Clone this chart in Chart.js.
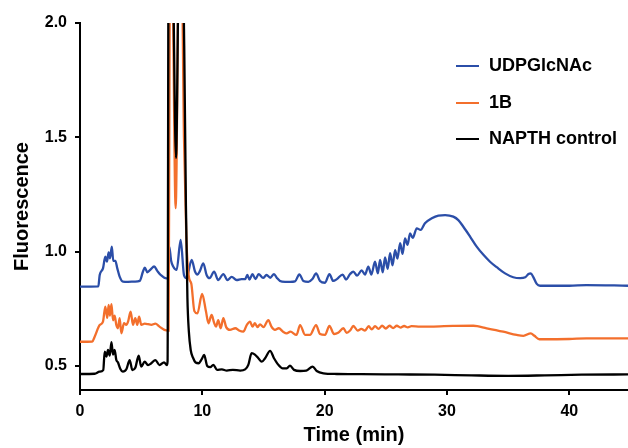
<!DOCTYPE html>
<html>

<head>
	<title>HPLC fluorescence</title>
	<style>
		body {
			margin: 0;
			background: #fff;
		}
	</style>
</head>

<body>
	<canvas id="trace" width="628" height="448"></canvas>

	<script src="https://cdn.jsdelivr.net/npm/chart.js"></script>
	<script>
		// tick labels
		const xTickValues = [0, 10, 20, 30, 40];
		const yTickValues = [0.5, 1.0, 1.5, 2.0];

		const seriesNames = ['UDPGlcNAc', '1B', 'NAPTH control'];

		// UDPGlcNAc (blue)
		const blueTime = [
			0, 1.5, 1.61, 1.88, 2.07, 2.2, 2.34, 2.45, 2.6, 2.72,
			2.89, 3.05, 3.24, 3.51, 3.92, 4.47, 4.88, 5.15, 5.3, 5.5,
			5.78, 6.06, 6.33, 6.6, 7.06, 7.2, 7.3, 7.45, 7.63, 7.9,
			8.23, 8.5, 8.7, 9.13, 9.4, 9.6, 9.8, 10.08, 10.35, 10.6,
			10.96, 11.3, 11.72, 12.05, 12.4, 12.8, 13.2, 13.5, 13.68, 13.85,
			14.1, 14.35, 14.6, 14.97, 15.25, 15.55, 15.86, 16.1, 16.35, 16.76,
			17.17, 17.58, 17.93, 18.26, 18.67, 19.0, 19.3, 19.62, 20.03, 20.39,
			20.7, 21.0, 21.47, 21.75, 22.08, 22.35, 22.65, 23.03, 23.3, 23.57,
			23.82, 24.12, 24.35, 24.53, 24.75, 24.94, 25.15, 25.35, 25.55, 25.76,
			25.95, 26.17, 26.37, 26.57, 26.78, 26.98, 27.2, 27.53, 27.85, 28.2,
			28.76, 29.3, 29.85, 30.52, 30.93, 31.34, 31.89, 32.43, 32.98, 33.52,
			34.07, 34.75, 35.42, 35.98, 36.4, 36.66, 36.85, 37.05, 37.34, 37.61,
			40, 41.4, 44.8
		];
		const blueValues = [
			0.847, 0.848, 0.898, 0.927, 0.978, 0.956, 0.997, 0.971, 1.022, 0.960,
			0.960, 0.927, 0.891, 0.869, 0.868, 0.869, 0.872, 0.913, 0.930, 0.910,
			0.923, 0.935, 0.915, 0.898, 0.883, 0.885, 1.022, 0.960, 0.934, 0.920,
			1.051, 0.898, 0.884, 0.964, 0.913, 0.900, 0.915, 0.949, 0.898, 0.884,
			0.913, 0.876, 0.902, 0.876, 0.890, 0.876, 0.880, 0.880, 0.898, 0.878,
			0.902, 0.880, 0.902, 0.885, 0.898, 0.886, 0.902, 0.885, 0.872, 0.868,
			0.868, 0.870, 0.901, 0.872, 0.868, 0.880, 0.905, 0.872, 0.864, 0.902,
			0.872, 0.880, 0.900, 0.878, 0.902, 0.913, 0.895, 0.918, 0.900, 0.934,
			0.900, 0.956, 0.905, 0.964, 0.910, 0.975, 0.925, 0.993, 0.940, 1.007,
			0.970, 1.037, 0.990, 1.058, 1.030, 1.080, 1.060, 1.102, 1.095, 1.124,
			1.146, 1.158, 1.160, 1.153, 1.138, 1.109, 1.066, 1.022, 0.986, 0.956,
			0.932, 0.905, 0.888, 0.884, 0.888, 0.902, 0.905, 0.890, 0.859, 0.851,
			0.851, 0.854, 0.851
		];

		// 1B (orange)
		const orangeTime = [
			0, 1.0, 1.2, 1.61, 1.88, 2.07, 2.23, 2.34, 2.45, 2.57,
			2.7, 2.83, 2.97, 3.1, 3.24, 3.38, 3.6, 3.78, 3.93, 4.14,
			4.33, 4.52, 4.68, 4.83, 5.01, 5.29, 5.56, 5.83, 6.16, 6.5,
			6.9, 7.24, 7.3, 7.36, 7.52, 7.82, 8.1, 8.3, 8.5, 8.7,
			8.9, 9.1, 9.35, 9.6, 9.98, 10.3, 10.5, 10.76, 10.96, 11.12,
			11.3, 11.5, 11.72, 11.95, 12.26, 12.7, 13.0, 13.35, 13.63, 13.9,
			14.1, 14.3, 14.5, 14.72, 15.0, 15.4, 15.65, 15.94, 16.25, 16.6,
			16.9, 17.2, 17.7, 17.99, 18.4, 18.8, 19.3, 19.62, 20.03, 20.39,
			20.77, 21.1, 21.53, 21.8, 22.08, 22.35, 22.7, 23.0, 23.3, 23.6,
			23.85, 24.12, 24.4, 24.7, 25.0, 25.3, 25.6, 25.9, 26.2, 26.5,
			26.8, 27.1, 27.8, 30.5, 32.16, 33.25, 34.6, 35.7, 36.25, 36.85,
			37.15, 37.55, 40, 41.4, 44.8
		];
		const orangeValues = [
			0.606, 0.607, 0.628, 0.679, 0.694, 0.760, 0.710, 0.767, 0.720, 0.770,
			0.700, 0.720, 0.679, 0.665, 0.709, 0.643, 0.687, 0.680, 0.694, 0.738,
			0.680, 0.709, 0.680, 0.716, 0.680, 0.685, 0.683, 0.680, 0.685, 0.672,
			0.658, 0.655, 1.50, 2.30, 2.30, 1.19, 2.30, 2.30, 1.50, 1.05,
			0.890, 0.860, 0.740, 0.730, 0.815, 0.738, 0.687, 0.723, 0.690, 0.672,
			0.700, 0.665, 0.709, 0.670, 0.658, 0.665, 0.655, 0.650, 0.679, 0.694,
			0.672, 0.687, 0.670, 0.682, 0.670, 0.701, 0.672, 0.658, 0.665, 0.650,
			0.643, 0.650, 0.636, 0.679, 0.636, 0.636, 0.679, 0.640, 0.636, 0.675,
			0.640, 0.645, 0.665, 0.645, 0.655, 0.675, 0.655, 0.662, 0.655, 0.674,
			0.660, 0.674, 0.662, 0.676, 0.664, 0.676, 0.666, 0.676, 0.668, 0.675,
			0.669, 0.674, 0.672, 0.675, 0.676, 0.665, 0.650, 0.636, 0.632, 0.643,
			0.632, 0.617, 0.618, 0.621, 0.621
		];

		// NAPTH control (black)
		const blackTime = [
			0, 1.2, 1.6, 1.9, 2.02, 2.16, 2.29, 2.43, 2.57, 2.7,
			2.83, 2.97, 3.1, 3.3, 3.5, 3.8, 4.06, 4.28, 4.52, 4.8,
			5.0, 5.29, 5.56, 5.83, 6.16, 6.5, 6.87, 7.1, 7.16, 7.24,
			7.55, 7.85, 8.1, 8.38, 8.52, 8.66, 8.78, 8.9, 9.05, 9.25,
			9.45, 9.7, 9.95, 10.15, 10.4, 10.65, 10.9, 11.2, 11.6, 12.0,
			12.5, 13.1, 13.5, 13.76, 14.03, 14.3, 14.58, 14.86, 15.13, 15.54,
			15.86, 16.22, 16.57, 16.9, 17.17, 17.5, 18.0, 18.5, 19.02, 19.35,
			19.9, 21, 23, 26, 29, 32, 35, 38, 41, 44.8
		];
		const blackValues = [
			0.465, 0.466, 0.475, 0.482, 0.563, 0.541, 0.570, 0.545, 0.604, 0.550,
			0.570, 0.526, 0.516, 0.487, 0.475, 0.487, 0.526, 0.482, 0.492, 0.545,
			0.497, 0.519, 0.504, 0.512, 0.526, 0.504, 0.516, 0.504, 0.520, 2.30,
			2.30, 1.41, 2.30, 2.30, 1.90, 1.20, 0.80, 0.65, 0.57, 0.535,
			0.515, 0.512, 0.530, 0.548, 0.500, 0.495, 0.505, 0.483, 0.485, 0.480,
			0.483, 0.480, 0.485, 0.505, 0.556, 0.550, 0.534, 0.519, 0.534, 0.566,
			0.534, 0.505, 0.490, 0.490, 0.502, 0.483, 0.478, 0.480, 0.497, 0.478,
			0.468, 0.465, 0.464, 0.463, 0.462, 0.459, 0.457, 0.459, 0.462, 0.463
		];

		function toPoints(times, values) {
			return times.map((t, i) => ({ x: t, y: values[i] }));
		}

		const fontFamily = '"Liberation Sans", Arial, sans-serif';

		// legend in the upper right, drawn by hand
		const sideLegend = {
			id: 'sideLegend',
			afterDraw(chart) {
				const c = chart.ctx;
				const rows = [66, 103, 139];
				c.save();
				c.font = 'bold 18px ' + fontFamily;
				c.textBaseline = 'middle';
				c.textAlign = 'left';
				chart.data.datasets.forEach((ds, i) => {
					c.strokeStyle = ds.borderColor;
					c.lineWidth = 2;
					c.beginPath();
					c.moveTo(456, rows[i]);
					c.lineTo(479, rows[i]);
					c.stroke();
					c.fillStyle = '#000';
					c.fillText(ds.label, 489, rows[i]);
				});
				c.restore();
			}
		};

		let ctx = document.getElementById('trace').getContext('2d');
		let chart = new Chart(ctx, {
			type: 'line',
			data: {
				datasets: [
					{
						label: seriesNames[0],
						borderColor: '#2b4ea8',
						order: 2,
						data: toPoints(blueTime, blueValues)
					},
					{
						label: seriesNames[1],
						borderColor: '#f36f2c',
						order: 1,
						data: toPoints(orangeTime, orangeValues)
					},
					{
						label: seriesNames[2],
						borderColor: '#000000',
						order: 0,
						data: toPoints(blackTime, blackValues)
					}
				]
			},
			options: {
				responsive: false,
				animation: false,
				devicePixelRatio: 1,
				layout: { padding: { top: 23, right: 0, bottom: 0, left: 0 } },
				elements: {
					point: { radius: 0 },
					line: { borderWidth: 2.3, cubicInterpolationMode: 'monotone', fill: false }
				},
				plugins: {
					legend: { display: false },
					tooltip: { enabled: false }
				},
				scales: {
					x: {
						type: 'linear',
						min: 0,
						max: 44.8,
						afterFit: (scale) => { scale.height = 58; },
						afterBuildTicks: (scale) => { scale.ticks = xTickValues.map(v => ({ value: v })); },
						grid: { drawOnChartArea: false, drawTicks: true, tickLength: 5, color: '#000', lineWidth: 2 },
						border: { color: '#000', width: 2 },
						ticks: {
							padding: 7,
							color: '#000',
							font: { family: fontFamily, size: 16, weight: 'bold' },
							callback: (v) => String(v)
						},
						title: {
							display: true,
							text: 'Time (min)',
							color: '#000',
							padding: { top: 0, bottom: 1 },
							font: { family: fontFamily, size: 20, weight: 'bold' }
						}
					},
					y: {
						min: 0.395,
						max: 2.0,
						afterFit: (scale) => { scale.width = 80; },
						afterBuildTicks: (scale) => { scale.ticks = yTickValues.map(v => ({ value: v })); },
						grid: { drawOnChartArea: false, drawTicks: true, tickLength: 5, color: '#000', lineWidth: 2 },
						border: { color: '#000', width: 2 },
						ticks: {
							padding: 8,
							color: '#000',
							font: { family: fontFamily, size: 16, weight: 'bold' },
							callback: (v) => v.toFixed(1)
						},
						title: {
							display: true,
							text: 'Fluorescence',
							color: '#000',
							padding: { top: 10, bottom: 0 },
							font: { family: fontFamily, size: 20, weight: 'bold' }
						}
					}
				}
			},
			plugins: [sideLegend]
		});
	</script>
</body>

</html>
